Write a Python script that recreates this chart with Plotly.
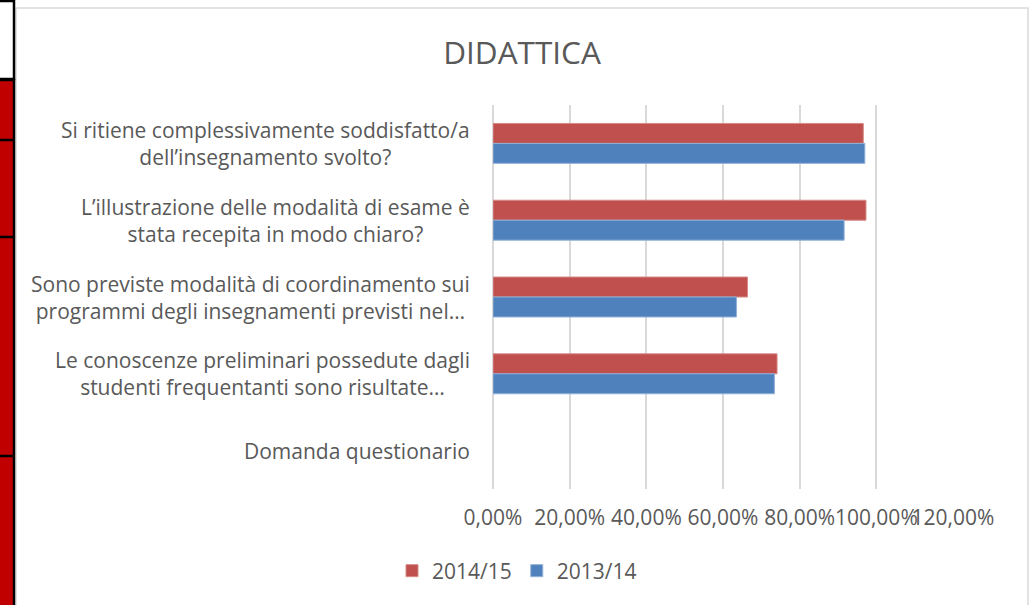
import plotly.graph_objects as go

categories = [
    "Si ritiene complessivamente soddisfatto/a<br>dell’insegnamento svolto?",
    "L’illustrazione delle modalità di esame è<br>stata recepita in modo chiaro?",
    "Sono previste modalità di coordinamento sui<br>programmi degli insegnamenti previsti nel…",
    "Le conoscenze preliminari possedute dagli<br>studenti frequentanti sono risultate…",
    "Domanda questionario",
]
cat_ids = ["q1", "q2", "q3", "q4", "q5"]
series_2014_15 = [0.966, 0.973, 0.664, 0.741, None]
series_2013_14 = [0.970, 0.916, 0.635, 0.734, None]
tick_vals = [0, 0.2, 0.4, 0.6, 0.8, 1.0, 1.2]
tick_text = ["0,00%", "20,00%", "40,00%", "60,00%", "80,00%", "100,00%", "120,00%"]

FONT = "Open Sans, Carlito, Calibri, sans-serif"
GREY = "#595959"
W, H = 1031, 605
L, R, T, B = 493, 78, 105, 116
pw = W - L - R
ph = H - T - B

def px_x(p):
    return (p - L) / pw

def px_y(p):
    return 1 - (p - T) / ph

fig = go.Figure()
fig.add_trace(go.Bar(
    y=cat_ids, x=series_2014_15, orientation="h", name="2014/15",
    marker=dict(color="#C0504D", line=dict(color="#D68A88", width=1)),
))
fig.add_trace(go.Bar(
    y=cat_ids, x=series_2013_14, orientation="h", name="2013/14",
    marker=dict(color="#4F81BD", line=dict(color="#8FB0D8", width=1)),
))

annotations = []
for cid, lab in zip(cat_ids, categories):
    annotations.append(dict(
        x=px_x(472), xref="paper", y=cid, yref="y", text=lab, showarrow=False,
        xanchor="right", yanchor="middle", align="center",
        font=dict(family=FONT, size=21, color=GREY),
    ))

shapes = [
    # chart border
    dict(type="rect", xref="paper", yref="paper", x0=px_x(16), x1=px_x(1028),
         y0=px_y(612), y1=px_y(8), line=dict(color="#D9D9D9", width=1.5),
         fillcolor="rgba(0,0,0,0)", layer="below"),
    # left spreadsheet cells
    dict(type="rect", xref="paper", yref="paper", x0=px_x(-4), x1=px_x(14),
         y0=px_y(79), y1=px_y(1), line=dict(color="black", width=2.5),
         fillcolor="white"),
    dict(type="rect", xref="paper", yref="paper", x0=px_x(-4), x1=px_x(14),
         y0=px_y(612), y1=px_y(80), line=dict(color="black", width=2.5),
         fillcolor="#C00000"),
]
for yy in [140, 237, 456]:
    shapes.append(dict(type="line", xref="paper", yref="paper", x0=px_x(-4), x1=px_x(14),
                       y0=px_y(yy), y1=px_y(yy), line=dict(color="black", width=2.5)))

fig.update_layout(
    width=W, height=H,
    margin=dict(l=L, r=R, t=T, b=B),
    paper_bgcolor="white", plot_bgcolor="white",
    barmode="group", bargap=0.48, bargroupgap=0,
    title=dict(text="DIDATTICA", xref="container", x=522 / W, xanchor="center",
               yref="container", y=1 - 53 / H, yanchor="middle",
               font=dict(family=FONT, size=31.5, color=GREY)),
    xaxis=dict(range=[0, 1.2], tickvals=tick_vals, ticktext=tick_text,
               tickangle=0,
               showgrid=True, gridcolor="#D9D9D9", gridwidth=2,
               zeroline=True, zerolinecolor="#D9D9D9", zerolinewidth=2,
               showline=False, ticks="", ticklabelstandoff=14,
               tickfont=dict(family=FONT, size=21, color=GREY), fixedrange=True),
    yaxis=dict(categoryorder="array", categoryarray=cat_ids, autorange="reversed",
               showticklabels=False, showgrid=False, zeroline=False, ticks="",
               fixedrange=True),
    legend=dict(orientation="h", x=px_x(392), xanchor="left", y=px_y(571),
                yanchor="middle", font=dict(family=FONT, size=21, color=GREY),
                traceorder="normal", itemwidth=30, tracegroupgap=0),
    annotations=annotations,
    shapes=shapes,
    showlegend=True,
)

fig.write_html(
    "out.html",
    config={"displayModeBar": False},
    post_script="document.body.style.margin='0px';document.body.style.overflow='hidden';",
)
